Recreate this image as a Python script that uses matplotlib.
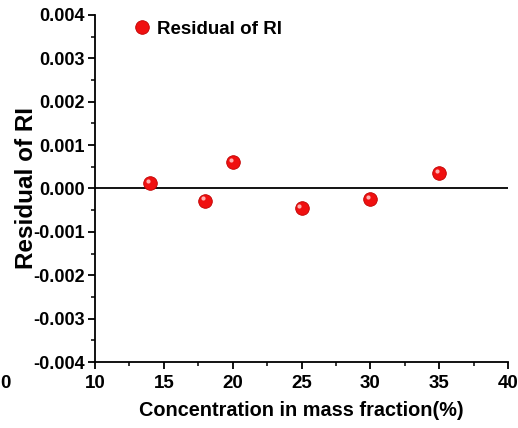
import numpy as np
import matplotlib
matplotlib.use('Agg')
from matplotlib import pyplot as plt
from matplotlib import transforms
from matplotlib.ticker import MultipleLocator, FormatStrFormatter

plt.rcParams['font.family'] = ['Liberation Sans', 'DejaVu Sans']
plt.rcParams['font.weight'] = 'bold'

conc = [14, 18, 20, 25, 30, 35]
residual = [0.00012, -0.00028, 0.00060, -0.00046, -0.00025, 0.00035]

fig = plt.figure(figsize=(5.18, 4.28), dpi=100)
ax = fig.add_axes([0.1834, 0.1542, 0.7973, 0.8108])

ax.axhline(0, color='k', lw=1.3, zorder=1)
ax.plot(conc, residual, 'o', ms=9.8, mfc='#f01010', mec='#c00000', mew=0.6,
        label='Residual of RI', zorder=3)
# small highlight to mimic the shaded spheres
shift = transforms.offset_copy(ax.transData, fig=fig, x=-1.5, y=1.8, units='points')
ax.plot(conc, residual, 'o', ms=3, mfc='#ffb0b0', mec='none', transform=shift, zorder=4)

ax.set_xlim(10, 40)
ax.set_ylim(-0.004, 0.004)
ax.xaxis.set_major_locator(MultipleLocator(5))
ax.xaxis.set_minor_locator(MultipleLocator(2.5))
ax.yaxis.set_major_locator(MultipleLocator(0.001))
ax.yaxis.set_minor_locator(MultipleLocator(0.0005))
ax.yaxis.set_major_formatter(FormatStrFormatter('%.3f'))

for s in ('top', 'right'):
    ax.spines[s].set_visible(False)
for s in ('left', 'bottom'):
    ax.spines[s].set_linewidth(1.3)
ax.tick_params(which='major', direction='out', length=5, width=1.3)
ax.tick_params(which='minor', direction='out', length=3, width=1.1)
ax.tick_params(axis='y', which='major', labelsize=13, pad=2.5)
ax.tick_params(axis='x', which='major', labelsize=13.5, pad=4)
for lab in ax.get_xticklabels() + ax.get_yticklabels():
    lab.set_fontweight('bold')

ax.set_xlabel('Concentration in mass fraction(%)', fontsize=14.3, fontweight='bold', labelpad=7)
ax.set_ylabel('Residual of RI', fontsize=17.5, fontweight='bold', labelpad=-3.5)

leg = ax.legend(loc='upper left', frameon=False, fontsize=13.5, handlelength=1.0,
                handletextpad=0.3, borderaxespad=0, bbox_to_anchor=(0.073, 1.006),
                numpoints=1)

fig.text(0.0, 0.105, '0', fontsize=13.5, fontweight='bold', ha='left', va='center')

fig.savefig('out.png', dpi=100)
